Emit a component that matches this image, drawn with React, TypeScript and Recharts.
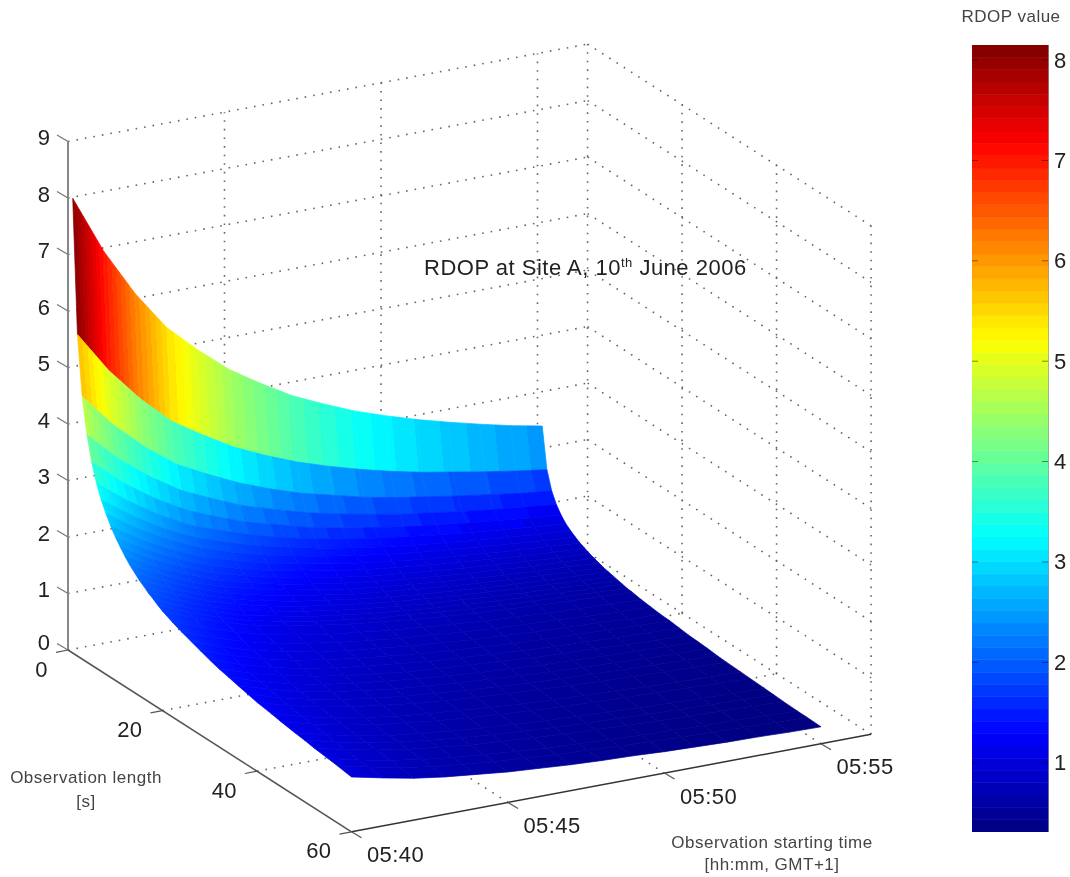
import React from "react";
import { Bar, BarChart, ReferenceArea, ReferenceLine, Scatter, ScatterChart, XAxis, YAxis } from "recharts";

const FONT = "'Liberation Sans', Arial, sans-serif";

// seconds of observation, one entry per row of rdopByLength
const observationLengths = [
  1, 2, 3, 4, 5, 6, 7, 8, 9, 10, 11, 12, 13, 14, 15, 16, 17, 18, 19, 20, 22, 24, 26, 28, 30, 32, 34, 36, 38, 40, 43, 45,
  48, 50, 52, 55, 57, 60,
];
// minutes after 05:40, one entry per column of rdopByLength
const startMinutes = [0, 1, 2, 3, 4, 5, 6, 7, 8, 9, 10, 11, 12, 13, 14, 15];
const rdopByLength = [
  [8.05, 7.0, 6.15, 5.45, 4.95, 4.5, 4.15, 3.83, 3.58, 3.35, 3.16, 2.99, 2.84, 2.7, 2.57, 2.46],
  [5.69, 4.95, 4.35, 3.85, 3.5, 3.18, 2.93, 2.71, 2.53, 2.37, 2.23, 2.11, 2.01, 1.91, 1.82, 1.74],
  [4.65, 4.04, 3.55, 3.14, 2.86, 2.6, 2.39, 2.21, 2.07, 1.93, 1.82, 1.73, 1.64, 1.56, 1.48, 1.42],
  [4.03, 3.5, 3.08, 2.73, 2.48, 2.25, 2.08, 1.92, 1.79, 1.68, 1.58, 1.5, 1.42, 1.35, 1.29, 1.23],
  [3.6, 3.13, 2.75, 2.44, 2.21, 2.01, 1.86, 1.71, 1.6, 1.5, 1.41, 1.34, 1.27, 1.21, 1.15, 1.1],
  [3.28, 2.86, 2.51, 2.22, 2.02, 1.84, 1.69, 1.56, 1.46, 1.37, 1.29, 1.22, 1.16, 1.1, 1.05, 1.0],
  [3.04, 2.65, 2.32, 2.06, 1.87, 1.7, 1.57, 1.45, 1.35, 1.27, 1.19, 1.13, 1.07, 1.02, 0.97, 0.93],
  [2.85, 2.48, 2.18, 1.93, 1.75, 1.59, 1.47, 1.36, 1.27, 1.19, 1.12, 1.06, 1.01, 0.96, 0.91, 0.87],
  [2.68, 2.33, 2.05, 1.81, 1.65, 1.5, 1.38, 1.28, 1.19, 1.12, 1.05, 1.0, 0.95, 0.9, 0.86, 0.82],
  [2.54, 2.21, 1.94, 1.72, 1.56, 1.42, 1.31, 1.21, 1.13, 1.06, 1.0, 0.94, 0.9, 0.85, 0.81, 0.78],
  [2.42, 2.1, 1.85, 1.64, 1.49, 1.35, 1.25, 1.15, 1.07, 1.01, 0.95, 0.9, 0.85, 0.81, 0.77, 0.74],
  [2.31, 2.01, 1.77, 1.56, 1.42, 1.29, 1.19, 1.1, 1.03, 0.96, 0.91, 0.86, 0.82, 0.77, 0.74, 0.71],
  [2.21, 1.93, 1.69, 1.5, 1.36, 1.24, 1.14, 1.05, 0.98, 0.92, 0.87, 0.82, 0.78, 0.74, 0.71, 0.68],
  [2.13, 1.86, 1.63, 1.44, 1.31, 1.19, 1.1, 1.01, 0.95, 0.89, 0.84, 0.79, 0.75, 0.72, 0.68, 0.65],
  [2.05, 1.79, 1.57, 1.39, 1.26, 1.15, 1.06, 0.98, 0.91, 0.85, 0.81, 0.76, 0.72, 0.69, 0.66, 0.63],
  [1.99, 1.73, 1.52, 1.35, 1.22, 1.11, 1.03, 0.95, 0.88, 0.83, 0.78, 0.74, 0.7, 0.67, 0.63, 0.61],
  [1.92, 1.67, 1.47, 1.3, 1.18, 1.08, 0.99, 0.92, 0.86, 0.8, 0.76, 0.71, 0.68, 0.65, 0.61, 0.59],
  [1.87, 1.62, 1.43, 1.26, 1.15, 1.04, 0.96, 0.89, 0.83, 0.78, 0.73, 0.69, 0.66, 0.63, 0.6, 0.57],
  [1.81, 1.58, 1.38, 1.23, 1.11, 1.01, 0.93, 0.86, 0.81, 0.75, 0.71, 0.67, 0.64, 0.61, 0.58, 0.55],
  [1.76, 1.53, 1.35, 1.19, 1.08, 0.99, 0.91, 0.84, 0.78, 0.73, 0.69, 0.65, 0.62, 0.59, 0.56, 0.54],
  [1.68, 1.46, 1.29, 1.14, 1.03, 0.94, 0.87, 0.8, 0.75, 0.7, 0.66, 0.62, 0.59, 0.56, 0.54, 0.51],
  [1.61, 1.4, 1.23, 1.09, 0.99, 0.9, 0.83, 0.77, 0.72, 0.67, 0.63, 0.6, 0.57, 0.54, 0.51, 0.49],
  [1.55, 1.34, 1.18, 1.05, 0.95, 0.86, 0.8, 0.74, 0.69, 0.64, 0.61, 0.57, 0.55, 0.52, 0.49, 0.47],
  [1.49, 1.3, 1.14, 1.01, 0.92, 0.83, 0.77, 0.71, 0.66, 0.62, 0.58, 0.55, 0.53, 0.5, 0.48, 0.46],
  [1.43, 1.25, 1.09, 0.97, 0.88, 0.8, 0.74, 0.68, 0.64, 0.6, 0.56, 0.53, 0.51, 0.48, 0.46, 0.44],
  [1.38, 1.2, 1.06, 0.94, 0.85, 0.77, 0.71, 0.66, 0.62, 0.58, 0.54, 0.51, 0.49, 0.46, 0.44, 0.42],
  [1.34, 1.16, 1.02, 0.9, 0.82, 0.75, 0.69, 0.64, 0.59, 0.56, 0.52, 0.5, 0.47, 0.45, 0.43, 0.41],
  [1.3, 1.13, 0.99, 0.88, 0.8, 0.72, 0.67, 0.62, 0.58, 0.54, 0.51, 0.48, 0.46, 0.43, 0.41, 0.4],
  [1.26, 1.09, 0.96, 0.85, 0.77, 0.7, 0.65, 0.6, 0.56, 0.52, 0.49, 0.47, 0.44, 0.42, 0.4, 0.38],
  [1.22, 1.06, 0.93, 0.83, 0.75, 0.68, 0.63, 0.58, 0.54, 0.51, 0.48, 0.45, 0.43, 0.41, 0.39, 0.37],
  [1.18, 1.02, 0.9, 0.8, 0.72, 0.66, 0.61, 0.56, 0.52, 0.49, 0.46, 0.44, 0.41, 0.39, 0.38, 0.36],
  [1.15, 1.0, 0.88, 0.78, 0.71, 0.64, 0.59, 0.55, 0.51, 0.48, 0.45, 0.43, 0.41, 0.39, 0.37, 0.35],
  [1.11, 0.97, 0.85, 0.75, 0.68, 0.62, 0.57, 0.53, 0.49, 0.46, 0.44, 0.41, 0.39, 0.37, 0.35, 0.34],
  [1.09, 0.95, 0.83, 0.74, 0.67, 0.61, 0.56, 0.52, 0.48, 0.45, 0.43, 0.4, 0.38, 0.36, 0.35, 0.33],
  [1.06, 0.92, 0.81, 0.72, 0.65, 0.59, 0.55, 0.51, 0.47, 0.44, 0.42, 0.39, 0.37, 0.36, 0.34, 0.32],
  [1.03, 0.9, 0.79, 0.7, 0.63, 0.58, 0.53, 0.49, 0.46, 0.43, 0.4, 0.38, 0.36, 0.35, 0.33, 0.31],
  [1.01, 0.88, 0.77, 0.68, 0.62, 0.56, 0.52, 0.48, 0.45, 0.42, 0.4, 0.37, 0.36, 0.34, 0.32, 0.31],
  [0.97, 0.85, 0.74, 0.66, 0.6, 0.54, 0.5, 0.46, 0.43, 0.41, 0.38, 0.36, 0.34, 0.33, 0.31, 0.3],
];

const rdopTicks = [0, 1, 2, 3, 4, 5, 6, 7, 8, 9];
const lengthTicks = [0, 20, 40, 60];
const timeTicks = [0, 5, 10, 15];
const timeTickLabels = ["05:40", "05:45", "05:50", "05:55"];
const colorbarTicks = [1, 2, 3, 4, 5, 6, 7, 8];
const RDOP_MIN = 0.31;
const RDOP_MAX = 8.15;
const LENGTH_END = 60;
const TIME_END = 16.6;
const RDOP_END = 9;
const COLOR_STEPS = 64;
const BANDED_ROWS = 5;

// Fixed MATLAB style view of the box: value triple -> chart coordinate
function project(length: number, minutes: number, rdop: number) {
  return {
    x: 68 + 4.725 * length + 31.3 * minutes,
    y: 650 + 3.03 * length - 5.87 * minutes - 56.5 * rdop,
  };
}

function jet(step: number) {
  const v = (step + 0.5) / COLOR_STEPS;
  const part = (c: number) => Math.round(255 * Math.max(0, Math.min(1, 1.5 - Math.abs(4 * v - c))));
  return `rgb(${part(3)},${part(2)},${part(1)})`;
}

const colorStepSize = (RDOP_MAX - RDOP_MIN) / COLOR_STEPS;

function colorStep(value: number) {
  return Math.max(0, Math.min(COLOR_STEPS - 1, Math.floor((value - RDOP_MIN) / colorStepSize)));
}

// Hard colour stops between two column values, so the 64 level colour map shows as bands
function bandedStops(from: number, to: number) {
  const first = colorStep(from);
  const last = colorStep(to);
  const stops = [{ offset: 0, color: jet(first) }];
  for (let s = first; s > last; s--) {
    const offset = (from - (RDOP_MIN + s * colorStepSize)) / (from - to);
    stops.push({ offset, color: jet(s) }, { offset, color: jet(s - 1) });
  }
  stops.push({ offset: 1, color: jet(last) });
  return stops;
}

// Further down the values barely change, soft stops keep the surface free of jagged bands
function softStops(from: number, to: number) {
  const toStep = (v: number) => (v - RDOP_MIN) / colorStepSize - 0.5;
  return [
    { offset: 0, color: jet(toStep(from)) },
    { offset: 1, color: jet(toStep(to)) },
  ];
}

type Seg = [number, number, number, number, number, number];

const gridSegments: Seg[] = [];
rdopTicks.forEach((z) => {
  gridSegments.push([0, 0, z, 0, TIME_END, z]);
  gridSegments.push([0, TIME_END, z, LENGTH_END, TIME_END, z]);
});
[5, 10, 15, TIME_END].forEach((t) => gridSegments.push([0, t, 0, 0, t, RDOP_END]));
[20, 40, 60].forEach((l) => gridSegments.push([l, TIME_END, 0, l, TIME_END, RDOP_END]));
[20, 40].forEach((l) => gridSegments.push([l, 0, 0, l, TIME_END, 0]));
[5, 10, 15].forEach((t) => gridSegments.push([0, t, 0, LENGTH_END, t, 0]));

const segmentPoints = (s: Seg) => [project(s[0], s[1], s[2]), project(s[3], s[4], s[5])];

const facets: any[] = [];
observationLengths.slice(0, -1).forEach((length, i) => {
  const nextLength = observationLengths[i + 1];
  startMinutes.slice(0, -1).forEach((minutes, j) => {
    const nextMinutes = startMinutes[j + 1];
    const a = project(length, minutes, rdopByLength[i][j]);
    const corners = [
      a,
      project(length, nextMinutes, rdopByLength[i][j + 1]),
      project(nextLength, nextMinutes, rdopByLength[i + 1][j + 1]),
      project(nextLength, minutes, rdopByLength[i + 1][j]),
    ];
    const stops =
      i < BANDED_ROWS
        ? bandedStops(rdopByLength[i][j], rdopByLength[i][j + 1])
        : softStops(rdopByLength[i][j], rdopByLength[i][j + 1]);
    facets.push({ ...a, id: `facet-${i}-${j}`, corners, stops });
  });
});

const FacetShape = (props: any) => {
  const { cx, cy, payload } = props;
  const ox = cx - payload.x;
  const oy = cy - payload.y;
  const [a, b, , d] = payload.corners;
  const points = payload.corners.map((c: any) => `${c.x + ox},${c.y + oy}`).join(" ");
  // gradient runs across the left edge, so colour bands stay parallel to it
  const nx = -(d.y - a.y);
  const ny = d.x - a.x;
  const k = ((b.x - a.x) * nx + (b.y - a.y) * ny) / (nx * nx + ny * ny);
  const fill = `url(#${payload.id})`;
  return (
    <g>
      <defs>
        <linearGradient
          id={payload.id}
          gradientUnits="userSpaceOnUse"
          x1={cx}
          y1={cy}
          x2={cx + nx * k}
          y2={cy + ny * k}
        >
          {payload.stops.map((s: any, i: number) => (
            <stop key={i} offset={s.offset} stopColor={s.color} />
          ))}
        </linearGradient>
      </defs>
      <polygon points={points} fill={fill} stroke={fill} strokeWidth={0.7} />
    </g>
  );
};

const tickShape = (
  tx: number,
  ty: number,
  lx: number,
  ly: number,
  anchor: string,
  stroke: string,
) => (props: any) => {
  const { cx, cy, payload } = props;
  return (
    <g>
      <line x1={cx} y1={cy} x2={cx + tx} y2={cy + ty} stroke={stroke} strokeWidth={1.2} />
      <text
        x={cx + lx}
        y={cy + ly + (payload.nudge || 0)}
        textAnchor={anchor}
        dominantBaseline="central"
        fontFamily={FONT}
        fontSize={22}
        letterSpacing={0.4}
        fill="#222"
      >
        {payload.label}
      </text>
    </g>
  );
};

const CaptionShape = (props: any) => {
  const { cx, cy, payload } = props;
  return (
    <text
      x={cx}
      y={cy}
      textAnchor="middle"
      dominantBaseline="central"
      fontFamily={FONT}
      fontSize={17}
      letterSpacing={0.5}
      fill="#444"
    >
      {payload.label}
    </text>
  );
};

const TitleShape = (props: any) => (
  <text x={props.cx} y={props.cy} fontFamily={FONT} fontSize={22} letterSpacing={0.5} fill="#222">
    RDOP at Site A, 10
    <tspan dy={-8} fontSize={13}>
      th
    </tspan>
    <tspan dy={8}> June 2006</tspan>
  </text>
);

const NoPoint = () => <g />;

const rdopTickData = rdopTicks.map((z) => ({
  ...project(0, 0, z),
  label: String(z),
  nudge: z === 0 ? -4 : 0,
}));
const lengthTickData = lengthTicks.map((l) => ({ ...project(l, 0, 0), label: String(l) }));
const timeTickData = timeTicks.map((t, i) => ({ ...project(LENGTH_END, t, 0), label: timeTickLabels[i] }));

const captions = [
  { x: 86, y: 777, label: "Observation length" },
  { x: 86, y: 801, label: "[s]" },
  { x: 772, y: 842, label: "Observation starting time" },
  { x: 772, y: 864, label: "[hh:mm, GMT+1]" },
  { x: 1011, y: 16, label: "RDOP value" },
];

const colorSteps = Array.from({ length: COLOR_STEPS }, (_, i) => i);
const colorbarRow: Record<string, any> = { name: "RDOP" };
colorSteps.forEach((i) => {
  colorbarRow[`s${i}`] = i === 0 ? RDOP_MIN + colorStepSize : colorStepSize;
});

const ColorbarTick = (props: any) => {
  const { x, y, payload } = props;
  return (
    <text x={x} y={y} dominantBaseline="central" fontFamily={FONT} fontSize={22} fill="#222">
      {payload.value}
    </text>
  );
};

export default function App() {
  return (
    <div
      style={{
        position: "absolute",
        left: 0,
        top: 0,
        width: 1070,
        height: 877,
        background: "#fff",
        filter: "blur(0.5px)",
      }}
    >
      <div style={{ position: "absolute", left: 0, top: 0 }}>
        <ScatterChart width={1070} height={877} margin={{ top: 0, right: 0, bottom: 0, left: 0 }}>
          <XAxis type="number" dataKey="x" domain={[0, 1070]} hide />
          <YAxis type="number" dataKey="y" domain={[0, 877]} reversed hide />
          {gridSegments.map((s, i) => (
            <Scatter
              key={`grid-${i}`}
              data={segmentPoints(s)}
              line={{ stroke: "#666", strokeWidth: 1.6, strokeDasharray: "1.6 7" }}
              shape={NoPoint}
              isAnimationActive={false}
            />
          ))}
          <Scatter data={facets} shape={FacetShape} isAnimationActive={false} />
          <Scatter
            data={[project(0, 0, 0), project(0, 0, RDOP_END)]}
            line={{ stroke: "#888", strokeWidth: 2 }}
            shape={NoPoint}
            isAnimationActive={false}
          />
          <Scatter
            data={[project(0, 0, 0), project(LENGTH_END, 0, 0)]}
            line={{ stroke: "#555", strokeWidth: 1.5 }}
            shape={NoPoint}
            isAnimationActive={false}
          />
          <Scatter
            data={[project(LENGTH_END, 0, 0), project(LENGTH_END, TIME_END, 0)]}
            line={{ stroke: "#333", strokeWidth: 1.5 }}
            shape={NoPoint}
            isAnimationActive={false}
          />
          <Scatter data={rdopTickData} shape={tickShape(-11, -6.5, -24, -4, "middle", "#777")} isAnimationActive={false} />
          <Scatter data={lengthTickData} shape={tickShape(-12, 2.3, -20, 19, "end", "#555")} isAnimationActive={false} />
          <Scatter data={timeTickData} shape={tickShape(10, 6, 44, 23, "middle", "#555")} isAnimationActive={false} />
          <Scatter data={captions} shape={CaptionShape} isAnimationActive={false} />
          <Scatter data={[{ x: 424, y: 275 }]} shape={TitleShape} isAnimationActive={false} />
        </ScatterChart>
      </div>
      <div style={{ position: "absolute", left: 972, top: 45 }}>
        <BarChart
          width={98}
          height={787}
          data={[colorbarRow]}
          barCategoryGap={0}
          margin={{ top: 0, right: 0, bottom: 0, left: 0 }}
        >
          <XAxis dataKey="name" hide />
          <YAxis
            orientation="right"
            type="number"
            width={22}
            domain={[RDOP_MIN, RDOP_MAX]}
            allowDataOverflow
            ticks={colorbarTicks}
            axisLine={false}
            tickLine={false}
            tickSize={0}
            tickMargin={6}
            tick={ColorbarTick}
          />
          {colorSteps.map((i) => (
            <Bar key={i} dataKey={`s${i}`} stackId="bar" fill={jet(i)} stroke={jet(i)} strokeWidth={0.6} isAnimationActive={false} />
          ))}
          <ReferenceArea y1={RDOP_MIN} y2={RDOP_MAX} fill="none" stroke="#333" strokeWidth={1} />
          {colorbarTicks.map((v) => (
            <ReferenceLine key={v} y={v} stroke="#000" strokeOpacity={0.45} strokeDasharray="6 64 6" />
          ))}
        </BarChart>
      </div>
    </div>
  );
}
